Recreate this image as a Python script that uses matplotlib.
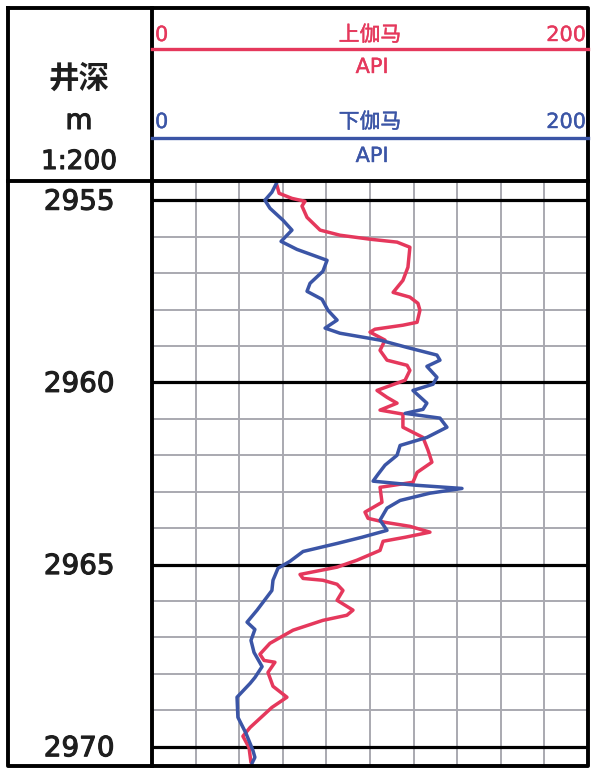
import matplotlib
matplotlib.use("Agg")
import matplotlib.pyplot as plt
import matplotlib.transforms as mtransforms
import matplotlib.patheffects as pe

plt.rcParams['font.family'] = ['DejaVu Sans', 'Noto Sans CJK SC']

# 上伽马 (API) vs depth (m)
up_depth = [2954.59, 2954.81, 2954.95, 2955.03, 2955.16, 2955.47, 2955.82, 2955.96, 2956.07, 2956.15,
            2956.29, 2956.84, 2957.20, 2957.53, 2957.66, 2957.83, 2958.02, 2958.35, 2958.43, 2958.54,
            2958.62, 2958.84, 2959.12, 2959.39, 2959.53, 2959.67, 2959.94, 2960.22, 2960.41, 2960.57,
            2960.76, 2960.87, 2961.23, 2961.51, 2961.86, 2962.19, 2962.47, 2962.74, 2962.88, 2963.29,
            2963.56, 2963.73, 2963.84, 2963.95, 2964.11, 2964.25, 2964.36, 2964.61, 2964.88, 2965.07,
            2965.27, 2965.38, 2965.43, 2965.54, 2965.71, 2965.98, 2966.25, 2966.39, 2966.53, 2966.80,
            2967.16, 2967.46, 2967.63, 2967.68, 2967.96, 2968.34, 2968.64, 2968.92, 2969.47, 2969.71,
            2970.02, 2970.43]
up_api = [57.3, 58.3, 64.2, 70.2, 68.8, 71.1, 77.1, 86.2, 100.0, 112.4,
          118.3, 117.4, 115.1, 110.6, 118.3, 122.0, 122.9, 121.6, 115.1, 102.3,
          100.0, 106.9, 104.6, 107.8, 117.0, 118.3, 116.1, 103.2, 107.8, 112.4,
          104.6, 115.1, 115.1, 124.3, 126.6, 128.4, 121.6, 119.7, 104.6, 105.5,
          97.7, 99.1, 106.9, 118.3, 127.5, 116.1, 106.0, 104.6, 94.0, 84.9,
          67.9, 69.3, 78.4, 84.9, 87.6, 84.9, 92.2, 89.4, 78.4, 64.7,
          54.1, 49.5, 51.4, 56.4, 53.2, 55.5, 61.9, 55.0, 45.0, 41.7,
          44.5, 45.4]

# 下伽马 (API) vs depth (m)
dn_depth = [2954.51, 2954.78, 2955.00, 2955.22, 2955.55, 2955.82, 2956.13, 2956.35, 2956.51, 2956.65,
            2956.95, 2957.28, 2957.50, 2957.72, 2958.02, 2958.29, 2958.51, 2958.65, 2958.84, 2959.04,
            2959.25, 2959.39, 2959.56, 2959.86, 2960.05, 2960.22, 2960.57, 2960.74, 2960.85, 2960.98,
            2961.23, 2961.51, 2961.73, 2962.00, 2962.27, 2962.52, 2962.71, 2962.82, 2962.91, 2963.04,
            2963.24, 2963.45, 2963.78, 2964.06, 2964.25, 2964.42, 2964.64, 2964.91, 2965.10, 2965.43,
            2965.71, 2966.25, 2966.58, 2966.78, 2967.08, 2967.41, 2967.80, 2968.10, 2968.26, 2968.64,
            2969.19, 2969.63, 2970.10, 2970.29, 2970.45]
dn_api = [57.3, 55.0, 51.8, 54.1, 60.1, 64.2, 59.2, 66.5, 73.9, 80.3,
          78.4, 72.5, 71.1, 78.0, 80.7, 84.9, 79.4, 86.2, 104.6, 117.0,
          130.7, 132.1, 126.1, 130.7, 128.9, 119.7, 126.1, 124.3, 116.1, 132.1,
          135.3, 126.1, 113.8, 112.4, 106.9, 103.7, 101.4, 120.6, 142.2, 127.5,
          113.8, 107.8, 104.6, 107.8, 96.3, 84.9, 69.3, 63.3, 57.8, 55.5,
          55.0, 48.2, 43.6, 47.2, 45.4, 46.8, 50.5, 47.2, 45.0, 39.0,
          39.4, 43.1, 46.3, 47.2, 45.9]

depth_labels = [2955, 2960, 2965, 2970]
depth_top, depth_bot = 2954.5, 2970.5
api_min, api_max = 0, 200

RED = "#e5385c"
BLUE = "#3b55a6"
GRID = "#a9a9b0"
INK = "#1e1e1e"

W, H = 596, 776
fig = plt.figure(figsize=(W / 100, H / 100), dpi=100)

def heavy(color, w=0.8):
    # thicken glyphs a little (reference font is a medium weight)
    return [pe.withStroke(linewidth=w, foreground=color)]

# track
ax = fig.add_axes([152 / W, (H - 765) / H, 436 / W, (765 - 182) / H])
ax.set_xlim(api_min, api_max)
ax.set_ylim(depth_bot, depth_top)
for v in range(api_min + 20, api_max, 20):
    ax.axvline(v, color=GRID, lw=1.4, zorder=1)
for d in range(int(depth_top) + 1, int(depth_bot) + 1):
    if d % 5 == 0:
        ax.axhline(d, color="black", lw=2.3, zorder=2)
    else:
        ax.axhline(d, color=GRID, lw=1.4, zorder=1)
ax.plot(up_api, up_depth, color=RED, lw=2.5, solid_joinstyle="round", solid_capstyle="round", zorder=3)
ax.plot(dn_api, dn_depth, color=BLUE, lw=2.5, solid_joinstyle="round", solid_capstyle="round", zorder=4)
ax.set_xticks([]); ax.set_yticks([])
for s in ax.spines.values():
    s.set_visible(False)

# depth labels
tr = mtransforms.blended_transform_factory(ax.transAxes, ax.transData)
for d in depth_labels:
    ax.text(-0.167, d + 0.04, str(d), transform=tr, ha="center", va="center",
            fontsize=20, color=INK, clip_on=False, path_effects=heavy(INK, 0.8))

# frame + header, in pixel coordinates
ov = fig.add_axes([0, 0, 1, 1], facecolor="none")
ov.set_xlim(0, W); ov.set_ylim(H, 0); ov.axis("off")
lw_frame = 2.8
ov.plot([8, 588, 588, 8, 8], [8, 8, 766, 766, 8], color="black", lw=lw_frame)
ov.plot([152, 152], [8, 766], color="black", lw=lw_frame)
ov.plot([8, 588], [181, 181], color="black", lw=lw_frame)

# 上伽马 header
ov.plot([152, 588], [49, 49], color=RED, lw=2.4)
ov.text(155, 35, str(api_min), color=RED, fontsize=15, ha="left", va="center", path_effects=heavy(RED, 0.3))
ov.text(586, 35, str(api_max), color=RED, fontsize=15, ha="right", va="center", path_effects=heavy(RED, 0.3))
ov.text(370, 35, "上伽马", color=RED, fontsize=15, ha="center", va="center", path_effects=heavy(RED, 0.3))
ov.text(372, 67, "API", color=RED, fontsize=15, ha="center", va="center", path_effects=heavy(RED, 0.3))

# 下伽马 header
ov.plot([152, 588], [138, 138], color=BLUE, lw=2.4)
ov.text(155, 122, str(api_min), color=BLUE, fontsize=15, ha="left", va="center", path_effects=heavy(BLUE, 0.3))
ov.text(586, 122, str(api_max), color=BLUE, fontsize=15, ha="right", va="center", path_effects=heavy(BLUE, 0.3))
ov.text(370, 122, "下伽马", color=BLUE, fontsize=15, ha="center", va="center", path_effects=heavy(BLUE, 0.3))
ov.text(372, 156, "API", color=BLUE, fontsize=15, ha="center", va="center", path_effects=heavy(BLUE, 0.3))

# depth column header
ov.text(79, 79, "井深", color=INK, fontsize=22, fontweight="bold",
        family=['Noto Sans CJK SC', 'DejaVu Sans'], ha="center", va="center")
ov.text(79, 121, "m", color=INK, fontsize=20, ha="center", va="center", path_effects=heavy(INK, 0.8))
ov.text(79, 162, "1:200", color=INK, fontsize=19, ha="center", va="center", path_effects=heavy(INK, 0.8))

fig.savefig("out.png", dpi=100)
